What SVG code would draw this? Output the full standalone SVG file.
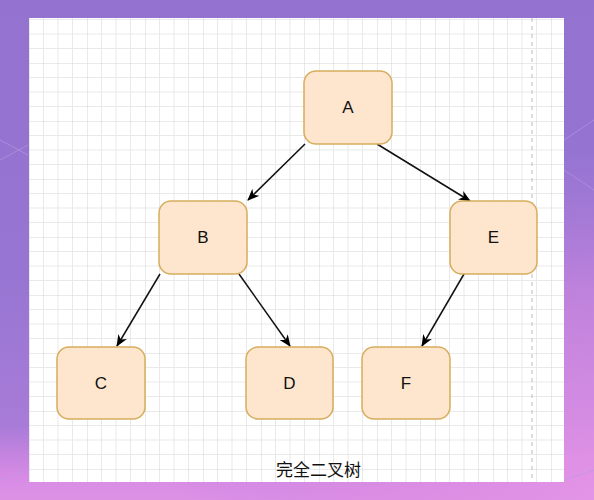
<svg xmlns="http://www.w3.org/2000/svg" width="594" height="500" viewBox="0 0 594 500">
<defs>
<linearGradient id="bg" x1="0" y1="0" x2="0" y2="1">
<stop offset="0" stop-color="#9472d0"/>
<stop offset="0.55" stop-color="#9676d2"/>
<stop offset="0.85" stop-color="#a87bd8"/>
<stop offset="0.95" stop-color="#d68ae4"/>
<stop offset="1" stop-color="#de92e6"/>
</linearGradient>
<radialGradient id="pink" cx="1" cy="1" r="0.7">
<stop offset="0" stop-color="#e394e6" stop-opacity="0.95"/>
<stop offset="0.6" stop-color="#d88ae2" stop-opacity="0.6"/>
<stop offset="1" stop-color="#c080e0" stop-opacity="0"/>
</radialGradient>
<pattern id="grid" x="29" y="5" width="58" height="58" patternUnits="userSpaceOnUse">
<path d="M14.5 0V58M29 0V58M43.5 0V58M0 14.5H58M0 29H58M0 43.5H58" stroke="#e9e9e9" stroke-width="1" fill="none"/>
<path d="M0 0V58M0 0H58" stroke="#d6d6d6" stroke-width="1" fill="none"/>
</pattern>
<marker id="arr" viewBox="0 0 12 10" refX="11" refY="5" markerWidth="12" markerHeight="10" markerUnits="userSpaceOnUse" orient="auto">
<path d="M0 0L12 5L0 10L3.5 5Z" fill="#000"/>
</marker>
<style>
.node rect{fill:#fde6cd;stroke:#d6ad5c;stroke-width:1.5}
.node text{font-family:"Liberation Sans",Arial,sans-serif;font-size:17px;fill:#111;text-anchor:middle;dominant-baseline:central}
.edge{stroke:#111;stroke-width:1.5;fill:none;marker-end:url(#arr)}
.cap{font-family:"Noto Sans CJK SC","Liberation Sans",sans-serif;font-size:17px;fill:#111}
</style>
</defs>
<rect width="594" height="500" fill="url(#bg)"/>
<rect width="594" height="500" fill="url(#pink)"/>
<g stroke="#b89be0" stroke-width="1" fill="none" opacity="0.6">
<path d="M0 140L28 155M0 160L28 145M564 140L594 120M564 170L594 190M0 480L28 470M564 480L594 470"/>
</g>
<rect x="29" y="18" width="535" height="464" fill="#ffffff"/>
<rect x="29" y="18" width="535" height="464" fill="url(#grid)"/>
<line x1="532" y1="18" x2="532" y2="482" stroke="#bdbdbd" stroke-width="1" stroke-dasharray="4 4"/>
<g id="connectors">
<line class="edge" x1="305" y1="144" x2="248" y2="200"/>
<line class="edge" x1="377" y1="144" x2="470" y2="201"/>
<line class="edge" x1="160" y1="274" x2="117" y2="346"/>
<line class="edge" x1="239" y1="274" x2="290" y2="346"/>
<line class="edge" x1="464" y1="274" x2="422" y2="346"/>
</g>
<g id="node-A" class="node"><rect x="304" y="71" width="88" height="73" rx="12"/><text x="348" y="107.5">A</text></g>
<g id="node-B" class="node"><rect x="159" y="201" width="88" height="73" rx="12"/><text x="203" y="237.5">B</text></g>
<g id="node-E" class="node"><rect x="450" y="201" width="87" height="73" rx="12"/><text x="493.5" y="237.5">E</text></g>
<g id="node-C" class="node"><rect x="57" y="347" width="88" height="72" rx="12"/><text x="101" y="383">C</text></g>
<g id="node-D" class="node"><rect x="246" y="347" width="87" height="72" rx="12"/><text x="289.5" y="383">D</text></g>
<g id="node-F" class="node"><rect x="362" y="347" width="88" height="72" rx="12"/><text x="406" y="383">F</text></g>
<text class="cap" x="276" y="476">完全二叉树</text>
</svg>
